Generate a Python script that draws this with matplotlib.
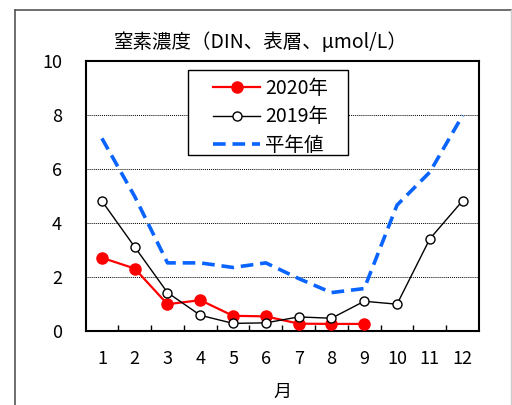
import matplotlib
matplotlib.use("Agg")
import matplotlib.pyplot as plt
from matplotlib.lines import Line2D
from matplotlib.patches import Rectangle

plt.rcParams['font.family'] = ['Noto Sans CJK JP', 'DejaVu Sans']

months = [1, 2, 3, 4, 5, 6, 7, 8, 9, 10, 11, 12]
month_labels = ['1', '2', '3', '4', '5', '6', '7', '8', '9', '10', '11', '12']
y2020 = [2.73, 2.33, 1.01, 1.16, 0.58, 0.56, 0.29, 0.28, 0.28]
y2019 = [4.83, 3.13, 1.44, 0.60, 0.30, 0.32, 0.54, 0.49, 1.12, 1.01, 3.43, 4.84]
normal = [7.15, 5.0, 2.54, 2.54, 2.37, 2.54, 1.96, 1.44, 1.59, 4.68, 5.9, 8.0]

title = '窒素濃度（DIN、表層、µmol/L）'
xlabel = '月'

fig = plt.figure(figsize=(5.12, 4.05), dpi=100)
ax = fig.add_axes([0.167, 0.1815, 0.7686, 0.667])

ax.plot(months[:len(y2020)], y2020, color='#ff0000', lw=1.6, marker='o',
        markersize=8, markerfacecolor='#ff0000', markeredgecolor='#ff0000',
        label='2020年', zorder=3)
ax.plot(months, y2019, color='black', lw=1.0, marker='o', markersize=6.5,
        markerfacecolor='white', markeredgecolor='black', markeredgewidth=1.0,
        label='2019年', zorder=4)
ax.plot(months, normal, color='#0a64ff', lw=2.6, linestyle=(0, (3.5, 1.9)),
        label='平年値', zorder=2)

ax.set_xlim(0.5, 12.5)
ax.set_ylim(0, 10)
ax.set_yticks([0, 2, 4, 6, 8, 10])
ax.set_xticks(months)
ax.set_xticklabels(month_labels)
ax.set_xticks([m + 0.5 for m in months[:-1]], minor=True)
ax.tick_params(axis='x', which='major', length=0, pad=13, labelsize=13)
ax.tick_params(axis='x', which='minor', direction='in', length=4.5, width=1.0)
ax.tick_params(axis='y', which='major', length=0, pad=17, labelsize=13)
for s in ax.spines.values():
    s.set_linewidth(1.5)
ax.yaxis.grid(True, linestyle=(0, (1, 1)), color='black', lw=0.7)
ax.set_axisbelow(True)

ax.set_xlabel(xlabel, fontsize=13, labelpad=11)

# legend frame (fixed box as in the reference)
ax.add_patch(Rectangle((0.2597, 0.652), 0.4066, 0.315, transform=ax.transAxes,
                       facecolor='white', edgecolor='black', lw=1.0, zorder=5))
leg = ax.legend(loc='upper left', bbox_to_anchor=(0.324, 0.938), borderaxespad=0,
                frameon=False, fontsize=14, handlelength=2.42, handletextpad=0.26,
                labelspacing=0.38, borderpad=0)
leg.set_zorder(6)

fig.text(261 / 512, 1 - 42.7 / 405, title, ha='center', va='center', fontsize=14)

# outer frame
fig.add_artist(Line2D([15 / 512, 15 / 512], [0, 1 - 9.5 / 405],
                      transform=fig.transFigure, color='#555555', lw=1.2))
fig.add_artist(Line2D([15 / 512, 511 / 512], [1 - 9.5 / 405, 1 - 9.5 / 405],
                      transform=fig.transFigure, color='#555555', lw=1.2))
fig.add_artist(Line2D([511 / 512, 511 / 512], [0, 1 - 9.5 / 405],
                      transform=fig.transFigure, color='#cccccc', lw=1.0))

fig.savefig('out.png', dpi=100)
